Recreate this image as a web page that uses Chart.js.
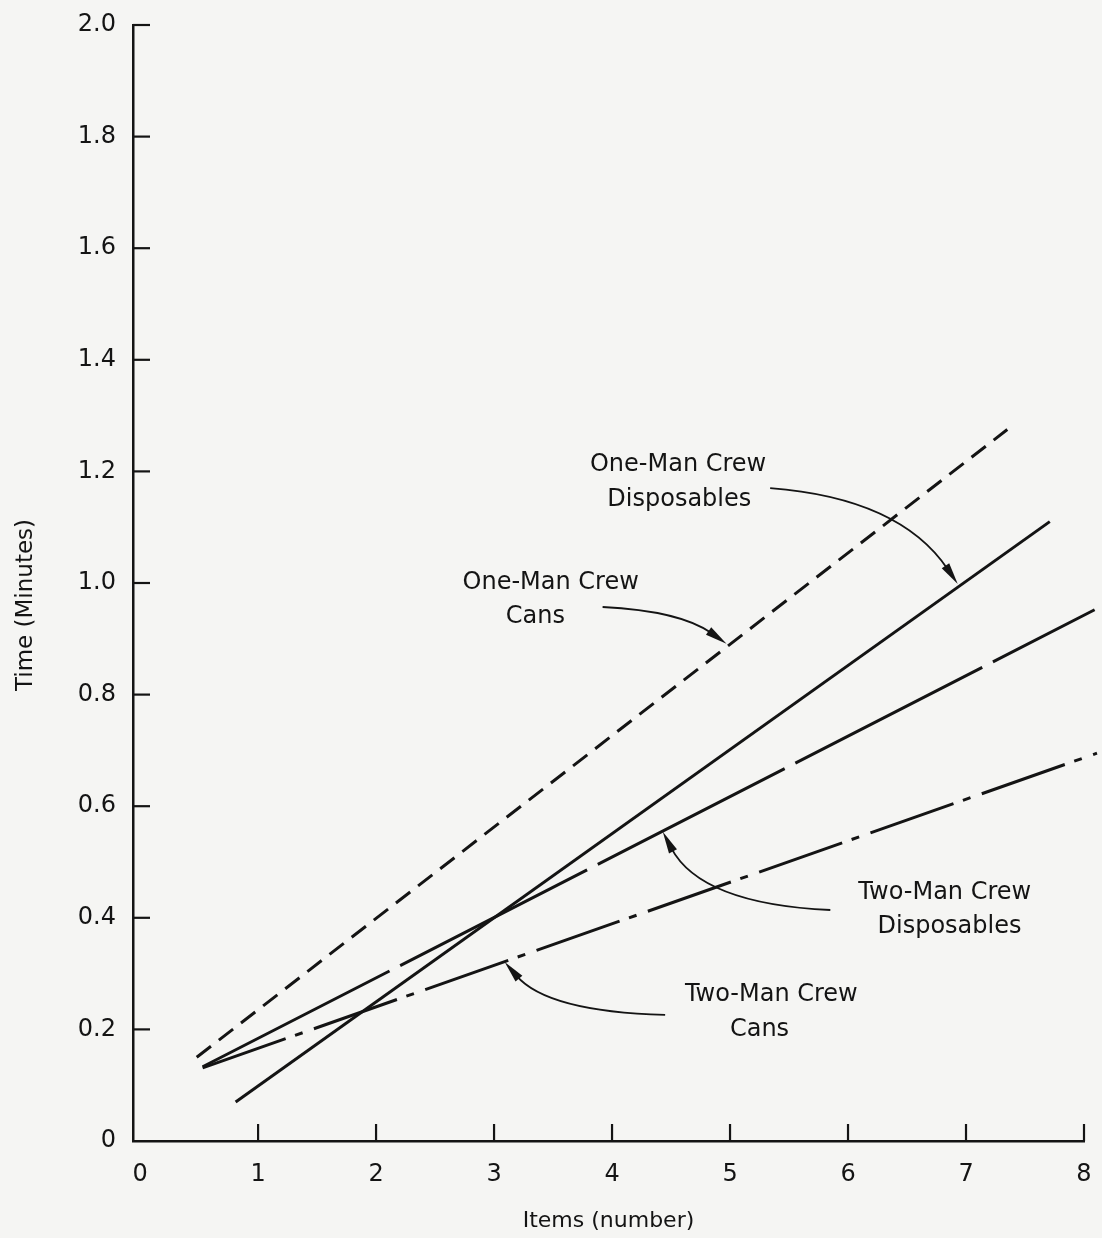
<!DOCTYPE html>
<html><head><meta charset="utf-8">
<script src="https://cdn.jsdelivr.net/npm/chart.js@4/dist/chart.umd.min.js"></script>
<style>html,body{margin:0;padding:0;background:#f5f5f3;}#wrap{width:1102px;height:1238px;}</style>
</head><body><div id="wrap"><canvas id="c" width="1102" height="1238"></canvas></div>
<script>
// ---- data ----
const xTicks = [0, 1, 2, 3, 4, 5, 6, 7, 8];
const yTicks = [0, 0.2, 0.4, 0.6, 0.8, 1.0, 1.2, 1.4, 1.6, 1.8, 2.0];
const seriesNames = ['One-Man Crew Cans', 'One-Man Crew Disposables', 'Two-Man Crew Disposables', 'Two-Man Crew Cans'];
const oneManCansX = [0.48, 7.35];
const oneManCansY = [0.15, 1.275];
const oneManDispX = [0.81, 7.71];
const oneManDispY = [0.07, 1.11];
const twoManDispX = [0.53, 8.09];
const twoManDispY = [0.133, 0.952];
const twoManCansX = [0.53, 8.11];
const twoManCansY = [0.131, 0.695];
const xTitle = 'Items (number)';
const yTitle = 'Time (Minutes)';

// ---- annotation layout (data units) ----
const notes = [
  { lines: ['One-Man Crew', 'Disposables'], at: [[4.56, 1.211], [4.57, 1.149]],
    arrow: [[5.34, 1.170], [6.44, 1.152], [6.93, 0.998]] },
  { lines: ['One-Man Crew', 'Cans'], at: [[3.48, 1.0], [3.35, 0.939]],
    arrow: [[3.92, 0.957], [4.58, 0.950], [4.97, 0.891]] },
  { lines: ['Two-Man Crew', 'Disposables'], at: [[6.82, 0.444], [6.86, 0.384]],
    arrow: [[5.85, 0.414], [4.75, 0.425], [4.43, 0.554]] },
  { lines: ['Two-Man Crew', 'Cans'], at: [[5.35, 0.262], [5.25, 0.199]],
    arrow: [[4.45, 0.226], [3.45, 0.232], [3.09, 0.321]] }
];

const INK = '#141414';
const FONT = '"DejaVu Sans", sans-serif';
const pts = (xs, ys) => xs.map((v, i) => ({ x: v, y: ys[i] }));

const decor = {
  id: 'decor',
  beforeDraw(chart) {
    const { ctx, width, height } = chart;
    ctx.save(); ctx.fillStyle = '#f5f5f3'; ctx.fillRect(0, 0, width, height); ctx.restore();
  },
  afterDraw(chart) {
    const { ctx, chartArea: a, scales: { x, y } } = chart;
    ctx.save();
    ctx.strokeStyle = INK; ctx.lineWidth = 2.2;
    xTicks.forEach(v => { if (v === 0) return; const px = x.getPixelForValue(v);
      ctx.beginPath(); ctx.moveTo(px, a.bottom); ctx.lineTo(px, a.bottom - 17); ctx.stroke(); });
    yTicks.forEach(v => { if (v === 0) return; const py = y.getPixelForValue(v);
      ctx.beginPath(); ctx.moveTo(a.left, py); ctx.lineTo(a.left + 17, py); ctx.stroke(); });
    // y axis title (rotated)
    ctx.save();
    ctx.font = '23px ' + FONT; ctx.fillStyle = INK; ctx.textAlign = 'center'; ctx.textBaseline = 'middle';
    ctx.translate(26, (a.top + a.bottom) / 2 + 22); ctx.rotate(-Math.PI / 2);
    ctx.fillText(yTitle, 0, 0);
    ctx.restore();
    ctx.font = '24px ' + FONT; ctx.fillStyle = INK; ctx.textAlign = 'center'; ctx.textBaseline = 'middle';
    notes.forEach(n => {
      n.lines.forEach((t, i) => ctx.fillText(t, x.getPixelForValue(n.at[i][0]), y.getPixelForValue(n.at[i][1])));
      const [s, c, e] = n.arrow.map(p => [x.getPixelForValue(p[0]), y.getPixelForValue(p[1])]);
      let dx = e[0] - c[0], dy = e[1] - c[1]; const L = Math.hypot(dx, dy); dx /= L; dy /= L;
      const len = 22, w = 4.5;
      const b = [e[0] - dx * len, e[1] - dy * len];
      ctx.lineWidth = 1.8; ctx.beginPath(); ctx.moveTo(s[0], s[1]);
      ctx.quadraticCurveTo(c[0], c[1], b[0] + dx * 4, b[1] + dy * 4); ctx.stroke();
      ctx.beginPath(); ctx.moveTo(e[0], e[1]);
      ctx.lineTo(b[0] - dy * w, b[1] + dx * w); ctx.lineTo(b[0] + dy * w, b[1] - dx * w); ctx.closePath(); ctx.fill();
    });
    ctx.restore();
  }
};

const ds = (label, data, dash) => ({ label, data, borderColor: INK, borderWidth: 3, borderDash: dash,
  pointRadius: 0, tension: 0, fill: false, clip: false, borderCapStyle: 'butt' });

new Chart(document.getElementById('c'), {
  type: 'line',
  data: { datasets: [
    ds(seriesNames[0], pts(oneManCansX, oneManCansY), [18, 10]),
    ds(seriesNames[1], pts(oneManDispX, oneManDispY), []),
    ds(seriesNames[2], pts(twoManDispX, twoManDispY), [210, 12]),
    ds(seriesNames[3], pts(twoManCansX, twoManCansY), [88, 10, 8, 12])
  ]},
  options: {
    responsive: false, animation: false, devicePixelRatio: 1,
    layout: { padding: { top: 25, right: 18, left: 0, bottom: 0 } },
    plugins: { legend: { display: false }, tooltip: { enabled: false }, title: { display: false } },
    scales: {
      x: { type: 'linear', min: -0.06, max: 8,
        afterBuildTicks: s => { s.ticks = xTicks.map(v => ({ value: v })); },
        afterFit: s => { s.height = 97; s.paddingLeft = 0; s.paddingRight = 0; },
        grid: { display: false, drawTicks: false },
        border: { display: true, color: INK, width: 2.5 },
        ticks: { color: INK, font: { family: FONT, size: 24 }, padding: 19, maxRotation: 0,
          callback: v => String(v) },
        title: { display: true, text: xTitle, color: INK, font: { family: FONT, size: 22 }, padding: { bottom: 4, top: 0 } }
      },
      y: { type: 'linear', min: 0, max: 2.0,
        afterBuildTicks: s => { s.ticks = yTicks.map(v => ({ value: v })); },
        afterFit: s => { s.width = 133; s.paddingTop = 0; s.paddingBottom = 0; },
        grid: { display: false, drawTicks: false },
        border: { display: true, color: INK, width: 2.5 },
        ticks: { color: INK, font: { family: FONT, size: 24 }, padding: 17,
          callback: v => (v === 0 ? '0' : Number(v).toFixed(1)) },
        title: { display: false, text: yTitle }
      }
    }
  },
  plugins: [decor]
});
</script></body></html>
